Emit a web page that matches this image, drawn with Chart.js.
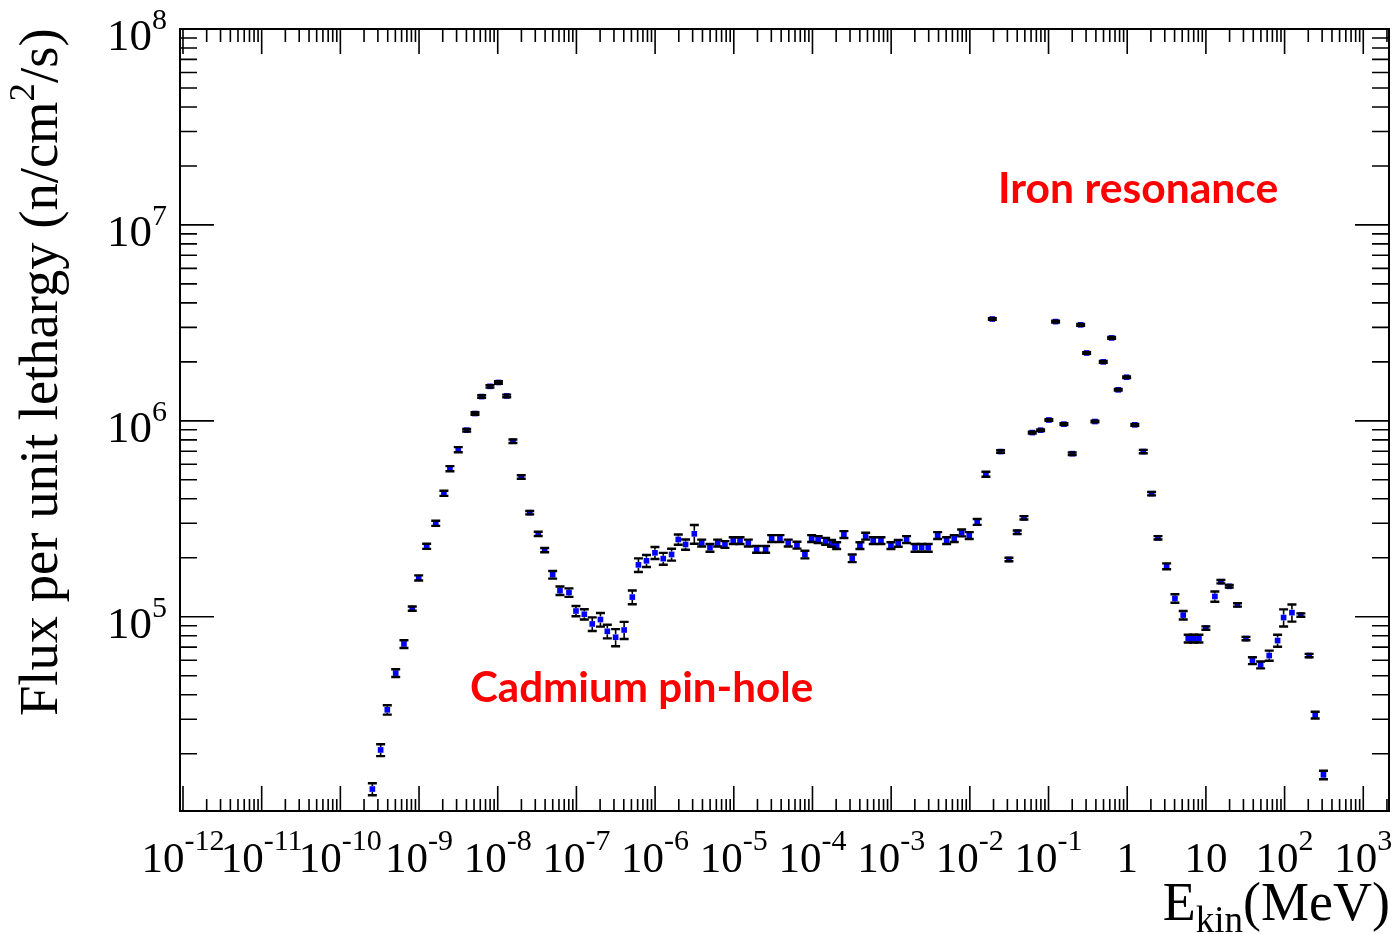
<!DOCTYPE html>
<html>
<head>
<meta charset="utf-8">
<title>Neutron flux per unit lethargy</title>
<script src="https://cdn.jsdelivr.net/npm/chart.js@4.4.1/dist/chart.umd.min.js"></script>
<style>
    html, body { margin: 0; padding: 0; background: #fff; }
    canvas { display: block; }
</style>
</head>
<body>
<canvas id="flux-canvas" width="1395" height="934"></canvas>
<script>
// kinetic energy of each bin centre (MeV)
var energy = [
    2.55e-10, 3.25e-10, 3.95e-10, 5.05e-10, 6.43e-10, 8.2e-10, 9.9e-10, 1.25e-9,
    1.63e-9, 2.07e-9, 2.47e-9, 3.15e-9, 4.03e-9, 5.14e-9, 6.25e-9, 7.97e-9,
    1.02e-8, 1.30e-8, 1.56e-8, 1.99e-8, 2.55e-8, 3.27e-8, 3.95e-8, 4.99e-8,
    6.18e-8, 8.04e-8, 9.87e-8, 1.26e-7, 1.59e-7, 2.02e-7, 2.47e-7, 3.15e-7,
    4.04e-7, 5.13e-7, 6.14e-7, 7.77e-7, 9.96e-7, 1.27e-6, 1.62e-6, 1.97e-6,
    2.44e-6, 3.15e-6, 3.91e-6, 4.98e-6, 6.24e-6, 7.72e-6, 9.84e-6, 1.20e-5,
    1.53e-5, 1.95e-5, 2.54e-5, 3.03e-5, 3.86e-5, 4.92e-5, 6.35e-5, 8.02e-5,
    9.76e-5, 1.18e-4, 1.47e-4, 1.75e-4, 2.03e-4, 2.51e-4, 3.20e-4, 4.01e-4,
    4.74e-4, 5.92e-4, 7.42e-4, 9.94e-4, 1.23e-3, 1.57e-3, 2.01e-3, 2.44e-3,
    2.96e-3, 3.90e-3, 5.07e-3, 6.33e-3, 7.87e-3, 9.83e-3, 1.24e-2, 1.60e-2,
    1.93e-2, 2.46e-2, 3.14e-2, 4.00e-2, 4.87e-2, 6.21e-2, 7.94e-2, 0.101,
    0.123, 0.157, 0.200, 0.256, 0.305, 0.389, 0.496, 0.634,
    0.769, 0.983, 1.25, 1.60, 2.04, 2.46, 3.17, 4.04,
    5.15, 5.96, 6.94, 8.15, 10.0, 13.0, 15.5, 19.8,
    25.2, 32.3, 39.0, 49.6, 63.8, 81.5, 97.2, 124,
    161, 205, 245, 312
];

// flux per unit lethargy (n/cm2/s)
var flux = [
    1.32e4, 2.09e4, 3.35e4, 5.16e4, 7.26e4, 1.10e5, 1.58e5, 2.29e5,
    3.00e5, 4.27e5, 5.70e5, 7.13e5, 8.96e5, 1.09e6, 1.33e6, 1.50e6,
    1.57e6, 1.34e6, 7.87e5, 5.17e5, 3.40e5, 2.65e5, 2.19e5, 1.64e5,
    1.36e5, 1.33e5, 1.07e5, 1.03e5, 9.19e4, 9.68e4, 8.43e4, 7.86e4,
    8.56e4, 1.26e5, 1.84e5, 1.93e5, 2.12e5, 1.98e5, 2.08e5, 2.48e5,
    2.34e5, 2.65e5, 2.38e5, 2.25e5, 2.38e5, 2.34e5, 2.45e5, 2.45e5,
    2.38e5, 2.21e5, 2.21e5, 2.51e5, 2.51e5, 2.38e5, 2.32e5, 2.08e5,
    2.51e5, 2.48e5, 2.43e5, 2.37e5, 2.31e5, 2.63e5, 1.99e5, 2.31e5,
    2.58e5, 2.45e5, 2.45e5, 2.31e5, 2.37e5, 2.48e5, 2.25e5, 2.25e5,
    2.25e5, 2.60e5, 2.45e5, 2.51e5, 2.68e5, 2.60e5, 3.05e5, 5.34e5,
    3.31e6, 6.97e5, 1.96e5, 2.70e5, 3.20e5, 8.71e5, 8.96e5, 1.01e6,
    3.21e6, 9.62e5, 6.80e5, 3.09e6, 2.22e6, 9.92e5, 2.00e6, 2.65e6,
    1.44e6, 1.67e6, 9.54e5, 6.97e5, 4.25e5, 2.53e5, 1.81e5, 1.24e5,
    1.02e5, 7.74e4, 7.74e4, 7.74e4, 8.76e4, 1.27e5, 1.51e5, 1.43e5,
    1.15e5, 7.74e4, 5.97e4, 5.68e4, 6.34e4, 7.56e4, 9.91e4, 1.05e5,
    1.02e5, 6.34e4, 3.15e4, 1.56e4
];

// relative statistical error of each bin
var relErr = [
    0.07, 0.07, 0.055, 0.045, 0.045, 0.025, 0.03, 0.03,
    0.03, 0.03, 0.03, 0.03, 0.015, 0.015, 0.015, 0.015,
    0.015, 0.015, 0.02, 0.02, 0.02, 0.025, 0.025, 0.045,
    0.05, 0.05, 0.06, 0.06, 0.08, 0.08, 0.08, 0.1,
    0.1, 0.08, 0.08, 0.07, 0.07, 0.07, 0.07, 0.06,
    0.06, 0.11, 0.04, 0.045, 0.04, 0.04, 0.04, 0.04,
    0.04, 0.04, 0.04, 0.04, 0.04, 0.04, 0.04, 0.045,
    0.04, 0.04, 0.04, 0.04, 0.04, 0.04, 0.045, 0.04,
    0.04, 0.04, 0.04, 0.04, 0.04, 0.04, 0.045, 0.045,
    0.045, 0.04, 0.04, 0.04, 0.04, 0.04, 0.035, 0.03,
    0.01, 0.015, 0.02, 0.02, 0.02, 0.01, 0.01, 0.01,
    0.01, 0.01, 0.015, 0.01, 0.01, 0.01, 0.01, 0.01,
    0.01, 0.01, 0.01, 0.02, 0.02, 0.02, 0.035, 0.05,
    0.05, 0.045, 0.045, 0.045, 0.02, 0.06, 0.02, 0.015,
    0.02, 0.02, 0.04, 0.04, 0.06, 0.07, 0.1, 0.1,
    0.02, 0.02, 0.04, 0.05
];

// decade labels on each axis (exponents of ten)
var xLabelExps = [-12, -11, -10, -9, -8, -7, -6, -5, -4, -3, -2, -1, 0, 1, 2, 3];
var yLabelExps = [5, 6, 7, 8];

var xRange = [Math.pow(10, -12.038), Math.pow(10, 3.327)];
var yRange = [1.02e4, 1e8];

var SERIF = '"Liberation Serif", "DejaVu Serif", serif';

function logTicks(lo, hi) {
    var out = [];
    var d0 = Math.floor(Math.log10(lo));
    var d1 = Math.ceil(Math.log10(hi));
    for (var d = d0; d <= d1; d++) {
        for (var m = 1; m < 10; m++) {
            var v = m * Math.pow(10, d);
            if (v >= lo * 0.9999 && v <= hi * 1.0001) out.push({ v: v, major: m === 1 });
        }
    }
    return out;
}

// "10" with a raised exponent, ROOT style ("1" and "10" for 10^0 and 10^1)
function drawPower(ctx, exp, x, baseline, bigPx, supPx, rise, align) {
    var base = '10';
    var sup = String(exp);
    if (exp === 0) { base = '1'; sup = ''; }
    else if (exp === 1) { sup = ''; }
    ctx.font = bigPx + 'px ' + SERIF;
    var wb = ctx.measureText(base).width;
    ctx.font = supPx + 'px ' + SERIF;
    var ws = sup ? ctx.measureText(sup).width : 0;
    var left = align === 'right' ? x - wb - ws : x - (wb + ws) / 2;
    ctx.textAlign = 'left';
    ctx.textBaseline = 'alphabetic';
    ctx.font = bigPx + 'px ' + SERIF;
    ctx.fillText(base, left, baseline);
    if (sup) {
        ctx.font = supPx + 'px ' + SERIF;
        ctx.fillText(sup, left + wb, baseline - rise);
    }
}

// bold red note, sized so it spans the given width
function drawNote(ctx, text, left, baseline, width) {
    ctx.font = 'bold 40px Lato, "Open Sans", sans-serif';
    var size = 40 * width / ctx.measureText(text).width;
    ctx.font = 'bold ' + size.toFixed(1) + 'px Lato, "Open Sans", sans-serif';
    ctx.fillStyle = '#ff0000';
    ctx.textAlign = 'left';
    ctx.textBaseline = 'alphabetic';
    ctx.fillText(text, left, baseline);
}

var errorBars = {
    id: 'errorBars',
    afterDatasetsDraw: function (chart) {
        var ctx = chart.ctx;
        var xs = chart.scales.x;
        var ys = chart.scales.y;
        ctx.save();
        ctx.strokeStyle = '#000';
        energy.forEach(function (e, i) {
            var x = xs.getPixelForValue(e);
            var y = ys.getPixelForValue(flux[i]);
            var top = ys.getPixelForValue(flux[i] * (1 + relErr[i]));
            var bot = ys.getPixelForValue(flux[i] * (1 - relErr[i]));
            ctx.lineWidth = 1.6;
            ctx.beginPath();
            if (y - top > 3) { ctx.moveTo(x, top); ctx.lineTo(x, y - 3); }
            if (bot - y > 3) { ctx.moveTo(x, y + 3); ctx.lineTo(x, bot); }
            ctx.stroke();
            ctx.lineWidth = 2.4;
            ctx.beginPath();
            ctx.moveTo(x - 4.5, top); ctx.lineTo(x + 4.5, top);
            ctx.moveTo(x - 4.5, bot); ctx.lineTo(x + 4.5, bot);
            ctx.stroke();
        });
        ctx.restore();
    }
};

var rootFrame = {
    id: 'rootFrame',
    afterDraw: function (chart) {
        var ctx = chart.ctx;
        var a = chart.chartArea;
        var xs = chart.scales.x;
        var ys = chart.scales.y;
        ctx.save();
        ctx.strokeStyle = '#000';
        ctx.fillStyle = '#000';

        // box
        ctx.lineWidth = 2;
        ctx.strokeRect(a.left, a.top, a.right - a.left, a.bottom - a.top);

        // inward ticks on all four sides
        ctx.lineWidth = 1.6;
        ctx.beginPath();
        logTicks(xs.min, xs.max).forEach(function (t) {
            var x = xs.getPixelForValue(t.v);
            var lb = t.major ? 25 : 12;
            var lt = t.major ? 25 : 13;
            ctx.moveTo(x, a.bottom); ctx.lineTo(x, a.bottom - lb);
            ctx.moveTo(x, a.top); ctx.lineTo(x, a.top + lt);
        });
        logTicks(ys.min, ys.max).forEach(function (t) {
            var y = ys.getPixelForValue(t.v);
            var l = t.major ? 34 : 17;
            ctx.moveTo(a.left, y); ctx.lineTo(a.left + l, y);
            ctx.moveTo(a.right, y); ctx.lineTo(a.right - l, y);
        });
        ctx.stroke();

        // decade labels
        xLabelExps.forEach(function (p) {
            drawPower(ctx, p, xs.getPixelForValue(Math.pow(10, p)), 872, 43, 30, 22, 'center');
        });
        yLabelExps.forEach(function (p) {
            drawPower(ctx, p, 167, ys.getPixelForValue(Math.pow(10, p)) + 21, 45, 30, 21, 'right');
        });

        // x title: E_kin(MeV), right aligned
        ctx.font = '54px ' + SERIF;
        var wE = ctx.measureText('E').width;
        var wU = ctx.measureText('(MeV)').width;
        ctx.font = '37px ' + SERIF;
        var wK = ctx.measureText('kin').width;
        var x0 = 1390 - (wE + wK + wU);
        ctx.textAlign = 'left';
        ctx.font = '54px ' + SERIF;
        ctx.fillText('E', x0, 920);
        ctx.fillText('(MeV)', x0 + wE + wK, 920);
        ctx.font = '37px ' + SERIF;
        ctx.fillText('kin', x0 + wE, 932);

        // y title, rotated, with squared cm
        var parts = ['Flux per unit lethargy (n/cm', '2', '/s)'];
        ctx.font = '46px ' + SERIF;
        var w0 = ctx.measureText(parts[0]).width + ctx.measureText(parts[2]).width;
        ctx.font = '31px ' + SERIF;
        var w1 = ctx.measureText(parts[1]).width;
        var k = 688 / (w0 + w1);
        var big = 46 * k;
        var small = 31 * k;
        ctx.save();
        ctx.translate(57, 372);
        ctx.rotate(-Math.PI / 2);
        ctx.font = big.toFixed(1) + 'px ' + SERIF;
        var p0 = ctx.measureText(parts[0]).width;
        var start = -688 / 2;
        ctx.fillText(parts[0], start, 0);
        ctx.font = small.toFixed(1) + 'px ' + SERIF;
        var p1 = ctx.measureText(parts[1]).width;
        ctx.fillText(parts[1], start + p0, -big * 0.42);
        ctx.font = big.toFixed(1) + 'px ' + SERIF;
        ctx.fillText(parts[2], start + p0 + p1, 0);
        ctx.restore();

        drawNote(ctx, 'Iron resonance', 998, 203, 280);
        drawNote(ctx, 'Cadmium pin-hole', 470, 702, 343);
        ctx.restore();
    }
};

new Chart(document.getElementById('flux-canvas'), {
    type: 'scatter',
    data: {
        datasets: [
            {
                label: 'Flux',
                data: energy.map(function (e, i) {
                    return { x: e, y: flux[i] };
                }),
                pointStyle: 'rect',
                pointRadius: 4,
                pointBackgroundColor: '#0000ff',
                pointBorderWidth: 0,
                showLine: false,
            },
        ],
    },
    options: {
        responsive: false,
        devicePixelRatio: 1,
        animation: false,
        layout: { padding: { left: 180, right: 6, top: 29, bottom: 123 } },
        plugins: {
            legend: { display: false },
            tooltip: { enabled: false },
        },
        scales: {
            x: { type: 'logarithmic', min: xRange[0], max: xRange[1], display: false },
            y: { type: 'logarithmic', min: yRange[0], max: yRange[1], display: false },
        },
    },
    plugins: [errorBars, rootFrame],
});
</script>
</body>
</html>
